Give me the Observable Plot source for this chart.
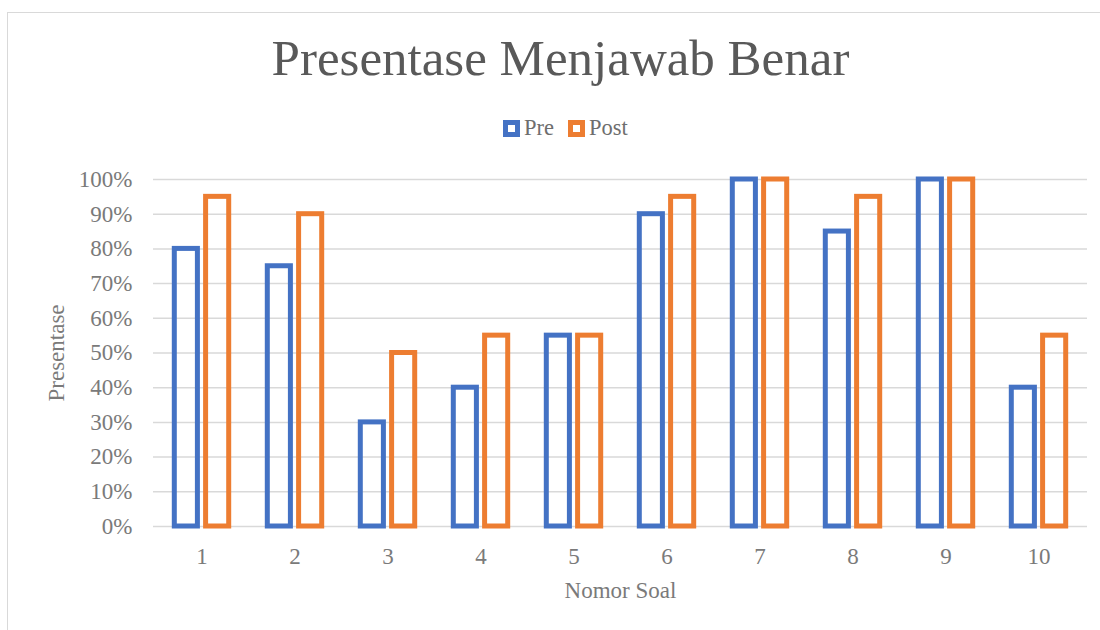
<!DOCTYPE html>
<html><head><meta charset="utf-8">
<script src="https://cdn.jsdelivr.net/npm/d3@7"></script>
<script src="https://cdn.jsdelivr.net/npm/@observablehq/plot@0.6"></script>
<style>
body{margin:0;background:#fff;width:1100px;height:630px;overflow:hidden;position:relative;font-family:"Liberation Serif","Times New Roman","DejaVu Serif",serif;}
#frame{position:absolute;left:7px;top:12px;width:1120px;height:640px;border:1.5px solid #d9d9d9;box-sizing:border-box;}
#title{position:absolute;left:0;top:33px;width:1121px;text-align:center;font-family:"Liberation Serif","Times New Roman",serif;font-size:51px;line-height:50px;color:#595959;white-space:nowrap;}
#legend{position:absolute;top:119px;left:503px;display:flex;align-items:center;font-family:"Liberation Serif","Times New Roman",serif;font-size:22.5px;line-height:18px;color:#6e6e6e;height:18px;}
.item{display:flex;align-items:center;margin-right:14px;}
.sw{width:17px;height:17px;box-sizing:border-box;border:5.5px solid;background:#fff;margin-right:4px;}
#chart{position:absolute;left:0;top:150px;}
</style></head><body>
<div id="frame"></div>
<div id="title"></div>
<div id="legend"></div>
<div id="chart"></div>
<script>
const chartTitle = "Presentase Menjawab Benar";
const xTitle = "Nomor Soal";
const yTitle = "Presentase";
const questions = ["1","2","3","4","5","6","7","8","9","10"];
const preValues = [0.80,0.75,0.30,0.40,0.55,0.90,1.00,0.85,1.00,0.40];
const postValues = [0.95,0.90,0.50,0.55,0.55,0.95,1.00,0.95,1.00,0.55];
const seriesNames = ["Pre","Post"];
const seriesColors = ["#4472C4","#ED7D31"];
const yTicks = [0,0.1,0.2,0.3,0.4,0.5,0.6,0.7,0.8,0.9,1.0];

document.getElementById("title").textContent = chartTitle;
const legend = document.getElementById("legend");
seriesNames.forEach((name,i)=>{
  const item = document.createElement("div"); item.className="item";
  const sw = document.createElement("div"); sw.className="sw"; sw.style.borderColor = seriesColors[i];
  const label = document.createElement("span"); label.textContent = name;
  item.appendChild(sw); item.appendChild(label); legend.appendChild(item);
});

const data = questions.map((q,i)=>({q, pre: preValues[i], post: postValues[i]}));
const barStyle = {fill:"none", strokeWidth:5};
const plot = Plot.plot({
  width:1100, height:480,
  marginLeft:153, marginRight:13, marginTop:29, marginBottom:104,
  style:{fontFamily:"'Liberation Serif', 'Times New Roman', serif", fontSize:"23px", color:"#7a7a7a", background:"transparent", overflow:"visible"},
  x:{type:"band", domain:questions, padding:0, tickSize:0, tickPadding:21, label:xTitle, labelAnchor:"center", labelOffset:71, labelArrow:"none"},
  y:{domain:[0,1], ticks:yTicks, tickFormat:d3.format(".0%"), tickSize:0, tickPadding:21, label:yTitle, labelAnchor:"center", labelOffset:106, labelArrow:"none"},
  marks:[
    Plot.gridY(yTicks,{stroke:"#d9d9d9", strokeOpacity:1, strokeWidth:1.5}),
    Plot.barY(data,{x:"q", y:"pre", stroke:seriesColors[0], insetLeft:19.3, insetRight:50.6, ...barStyle}),
    Plot.barY(data,{x:"q", y:"post", stroke:seriesColors[1], insetLeft:50.6, insetRight:19.3, ...barStyle})
  ]
});
document.getElementById("chart").appendChild(plot);
</script>
</body></html>
